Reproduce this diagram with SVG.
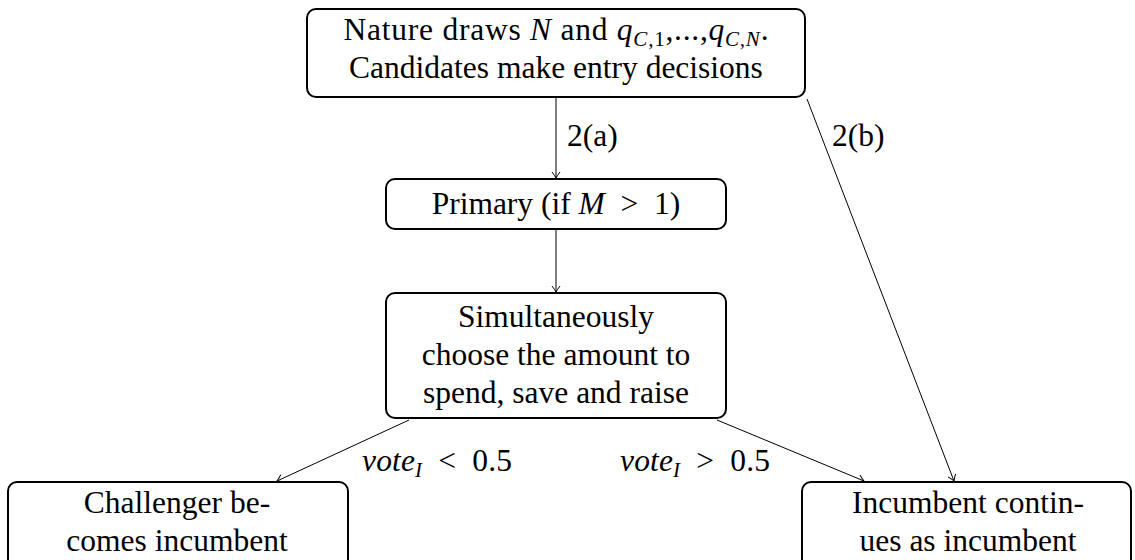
<svg xmlns="http://www.w3.org/2000/svg" width="1135" height="560" viewBox="0 0 1135 560">
<style>
.box{fill:#fff;stroke:#000;stroke-width:2}
.t{font-family:"Liberation Serif","Times New Roman",serif;font-size:31.5px;fill:#000;text-anchor:middle}
.tl{font-family:"Liberation Serif","Times New Roman",serif;font-size:31.5px;fill:#000}
.i{font-style:italic}
.s{font-size:21px}
.c{fill:none;stroke:#000;stroke-width:1}
</style>
<defs>
<marker id="arr" viewBox="-8 -5 10 10" markerWidth="10" markerHeight="10" refX="0" refY="0" orient="auto" markerUnits="userSpaceOnUse">
<path d="M-6,-4 Q-2,-1 0,0 Q-2,1 -6,4" fill="none" stroke="#000" stroke-width="1"/>
</marker>
</defs>
<rect width="1135" height="560" fill="#fff"/>
<g id="connectors">
<line class="c" x1="556" y1="97" x2="556" y2="178" marker-end="url(#arr)"/>
<line class="c" x1="556" y1="229" x2="556" y2="292" marker-end="url(#arr)"/>
<line class="c" x1="409" y1="420" x2="277" y2="481" marker-end="url(#arr)"/>
<line class="c" x1="717" y1="420" x2="864" y2="481" marker-end="url(#arr)"/>
<line class="c" x1="807" y1="99" x2="954" y2="481" marker-end="url(#arr)"/>
<text class="tl" x="567" y="146">2(a)</text>
<text class="tl" x="832" y="146">2(b)</text>
<text class="tl" x="362" y="471" textLength="150" lengthAdjust="spacing"><tspan class="i">vote</tspan><tspan class="i s" dy="6">I</tspan><tspan dy="-6">&#160;&#160;&lt;&#160;&#160;0.5</tspan></text>
<text class="tl" x="620" y="471" textLength="150" lengthAdjust="spacing"><tspan class="i">vote</tspan><tspan class="i s" dy="6">I</tspan><tspan dy="-6">&#160;&#160;&gt;&#160;&#160;0.5</tspan></text>
</g>
<g id="node-nature">
<rect class="box" x="307" y="9" width="498" height="88" rx="9"/>
<text class="t" x="556" y="40" textLength="425" lengthAdjust="spacing">Nature draws <tspan class="i">N</tspan> and <tspan class="i">q</tspan><tspan class="i s" dy="6">C,</tspan><tspan class="s">1</tspan><tspan dy="-6">,...,</tspan><tspan class="i">q</tspan><tspan class="i s" dy="6">C,N</tspan><tspan dy="-6">.</tspan></text>
<text class="t" x="556" y="78">Candidates make entry decisions</text>
</g>
<g id="node-primary">
<rect class="box" x="386" y="179" width="340" height="50" rx="9"/>
<text class="t" x="556" y="214">Primary (if <tspan class="i">M</tspan>&#160;&#160;&gt;&#160;&#160;1)</text>
</g>
<g id="node-simultaneous">
<rect class="box" x="386" y="293" width="340" height="125" rx="9"/>
<text class="t" x="556" y="327">Simultaneously</text>
<text class="t" x="556" y="365">choose the amount to</text>
<text class="t" x="556" y="403">spend, save and raise</text>
</g>
<g id="node-challenger">
<rect class="box" x="8" y="482" width="340" height="90" rx="9"/>
<text class="t" x="177" y="513">Challenger be-</text>
<text class="t" x="177" y="551">comes incumbent</text>
</g>
<g id="node-incumbent">
<rect class="box" x="802" y="482" width="329" height="90" rx="9"/>
<text class="t" x="968" y="513">Incumbent contin-</text>
<text class="t" x="968" y="551">ues as incumbent</text>
</g>
</svg>
